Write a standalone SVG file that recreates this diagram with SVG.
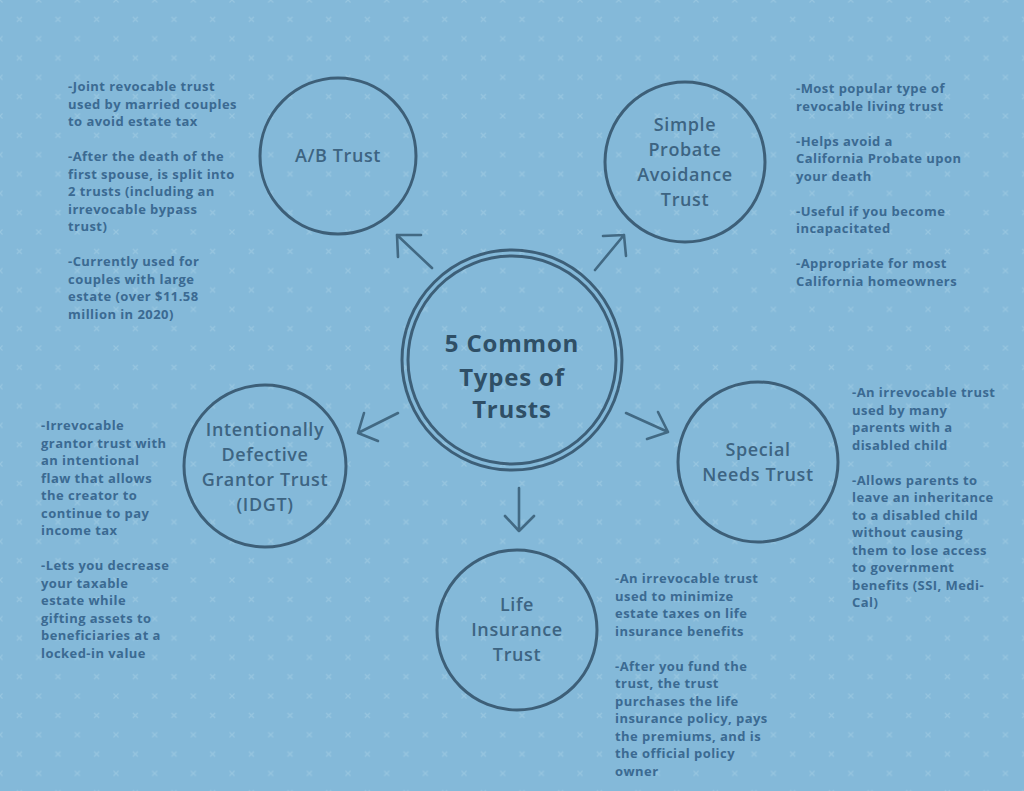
<svg xmlns="http://www.w3.org/2000/svg" width="1024" height="791" viewBox="0 0 1024 791">
<defs>
<pattern id="xs" x="0" y="0" width="38.67" height="38.67" patternUnits="userSpaceOnUse">
<g stroke="#97c5df" stroke-width="1.2">
<path d="M-2.5,-2.5 L2.5,2.5 M2.5,-2.5 L-2.5,2.5"/>
<path d="M36.17,-2.5 L41.17,2.5 M41.17,-2.5 L36.17,2.5"/>
<path d="M-2.5,36.17 L2.5,41.17 M2.5,36.17 L-2.5,41.17"/>
<path d="M36.17,36.17 L41.17,41.17 M41.17,36.17 L36.17,41.17"/>
<path d="M16.83,16.83 L21.83,21.83 M21.83,16.83 L16.83,21.83"/>
</g>
</pattern>
<style>
.node{fill:none;stroke:#3d5f78;stroke-width:3}
.lbl{font-family:"Open Sans",sans-serif;font-size:18px;font-weight:600;fill:#3d6482;text-anchor:middle;letter-spacing:0.6px}
.title{font-family:"Open Sans",sans-serif;font-size:24px;font-weight:700;fill:#2f4f66;text-anchor:middle;letter-spacing:0.8px}
.body{font-family:"Open Sans",sans-serif;font-size:13px;font-weight:700;fill:#3b6a92;letter-spacing:0.45px}
.arr{fill:none;stroke:#426983;stroke-width:2.6;stroke-linecap:round;stroke-linejoin:round}
</style>
</defs>
<rect width="1024" height="791" fill="#84b9d9"/>
<rect width="1024" height="791" fill="url(#xs)"/>

<g id="connectors">
<path class="arr" d="M432,268 L397,235 M398,257 L397,235 L421,235"/>
<path class="arr" d="M595,270 L624,235 M603,236 L624,235 L626,256"/>
<path class="arr" d="M398,413 L358,433 M364,413 L358,433 L378,441"/>
<path class="arr" d="M626,413 L668,432 M658,412 L668,432 L647,439"/>
<path class="arr" d="M519,488 L519,531 M505,516 L519,531 L534,516"/>
</g>

<g id="center">
<circle class="node" cx="512" cy="360" r="110"/>
<circle class="node" cx="512" cy="360" r="104"/>
<text class="title" x="512" y="352">5 Common</text>
<text class="title" x="512" y="386">Types of</text>
<text class="title" x="512" y="418">Trusts</text>
</g>

<g id="ab-trust">
<circle class="node" cx="338" cy="156" r="78"/>
<text class="lbl" x="338" y="162">A/B Trust</text>
<text class="body" x="68">
<tspan x="68" y="91">-Joint revocable trust</tspan>
<tspan x="68" y="108.5">used by married couples</tspan>
<tspan x="68" y="126">to avoid estate tax</tspan>
<tspan x="68" y="161">-After the death of the</tspan>
<tspan x="68" y="178.5">first spouse, is split into</tspan>
<tspan x="68" y="196">2 trusts (including an</tspan>
<tspan x="68" y="213.5">irrevocable bypass</tspan>
<tspan x="68" y="231">trust)</tspan>
<tspan x="68" y="266">-Currently used for</tspan>
<tspan x="68" y="283.5">couples with large</tspan>
<tspan x="68" y="301">estate (over $11.58</tspan>
<tspan x="68" y="318.5">million in 2020)</tspan>
</text>
</g>

<g id="probate-trust">
<circle class="node" cx="685" cy="162" r="80"/>
<text class="lbl" x="685" y="131">Simple</text>
<text class="lbl" x="685" y="156">Probate</text>
<text class="lbl" x="685" y="181">Avoidance</text>
<text class="lbl" x="685" y="206">Trust</text>
<text class="body">
<tspan x="796" y="93">-Most popular type of</tspan>
<tspan x="796" y="110.5">revocable living trust</tspan>
<tspan x="796" y="145.5">-Helps avoid a</tspan>
<tspan x="796" y="163">California Probate upon</tspan>
<tspan x="796" y="180.5">your death</tspan>
<tspan x="796" y="215.5">-Useful if you become</tspan>
<tspan x="796" y="233">incapacitated</tspan>
<tspan x="796" y="268">-Appropriate for most</tspan>
<tspan x="796" y="285.5">California homeowners</tspan>
</text>
</g>

<g id="idgt">
<circle class="node" cx="265" cy="466" r="81"/>
<text class="lbl" x="265" y="436">Intentionally</text>
<text class="lbl" x="265" y="461">Defective</text>
<text class="lbl" x="265" y="486">Grantor Trust</text>
<text class="lbl" x="265" y="511">(IDGT)</text>
<text class="body">
<tspan x="41" y="430">-Irrevocable</tspan>
<tspan x="41" y="447.5">grantor trust with</tspan>
<tspan x="41" y="465">an intentional</tspan>
<tspan x="41" y="482.5">flaw that allows</tspan>
<tspan x="41" y="500">the creator to</tspan>
<tspan x="41" y="517.5">continue to pay</tspan>
<tspan x="41" y="535">income tax</tspan>
<tspan x="41" y="570">-Lets you decrease</tspan>
<tspan x="41" y="587.5">your taxable</tspan>
<tspan x="41" y="605">estate while</tspan>
<tspan x="41" y="622.5">gifting assets to</tspan>
<tspan x="41" y="640">beneficiaries at a</tspan>
<tspan x="41" y="657.5">locked-in value</tspan>
</text>
</g>

<g id="special-needs">
<circle class="node" cx="758" cy="462" r="80"/>
<text class="lbl" x="758" y="456">Special</text>
<text class="lbl" x="758" y="481">Needs Trust</text>
<text class="body">
<tspan x="852" y="397">-An irrevocable trust</tspan>
<tspan x="852" y="414.5">used by many</tspan>
<tspan x="852" y="432">parents with a</tspan>
<tspan x="852" y="449.5">disabled child</tspan>
<tspan x="852" y="484.5">-Allows parents to</tspan>
<tspan x="852" y="502">leave an inheritance</tspan>
<tspan x="852" y="519.5">to a disabled child</tspan>
<tspan x="852" y="537">without causing</tspan>
<tspan x="852" y="554.5">them to lose access</tspan>
<tspan x="852" y="572">to government</tspan>
<tspan x="852" y="589.5">benefits (SSI, Medi-</tspan>
<tspan x="852" y="607">Cal)</tspan>
</text>
</g>

<g id="life-insurance">
<circle class="node" cx="517" cy="630" r="80"/>
<text class="lbl" x="517" y="611">Life</text>
<text class="lbl" x="517" y="636">Insurance</text>
<text class="lbl" x="517" y="661">Trust</text>
<text class="body">
<tspan x="615" y="583">-An irrevocable trust</tspan>
<tspan x="615" y="600.5">used to minimize</tspan>
<tspan x="615" y="618">estate taxes on life</tspan>
<tspan x="615" y="635.5">insurance benefits</tspan>
<tspan x="615" y="670.5">-After you fund the</tspan>
<tspan x="615" y="688">trust, the trust</tspan>
<tspan x="615" y="705.5">purchases the life</tspan>
<tspan x="615" y="723">insurance policy, pays</tspan>
<tspan x="615" y="740.5">the premiums, and is</tspan>
<tspan x="615" y="758">the official policy</tspan>
<tspan x="615" y="775.5">owner</tspan>
</text>
</g>
</svg>
